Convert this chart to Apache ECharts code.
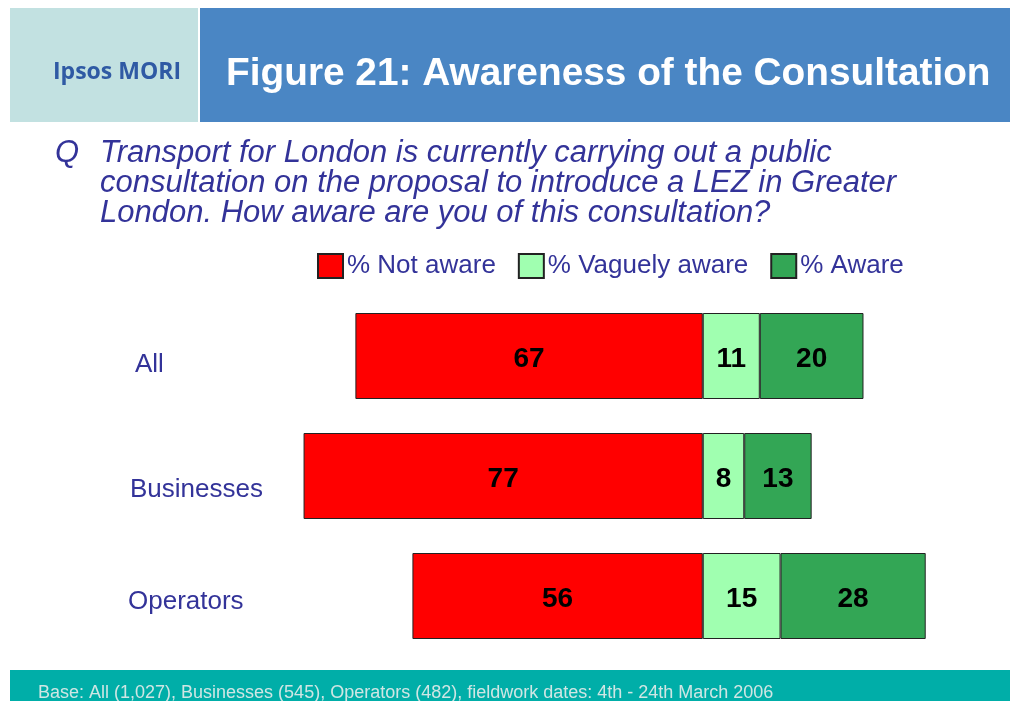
<!DOCTYPE html>
<html>
<head>
<meta charset="utf-8">
<script src="https://cdn.jsdelivr.net/npm/echarts@6/dist/echarts.min.js"></script>
<style>
  html, body {margin: 0; padding: 0; background: #fff;}
  #main {width: 1010px; height: 701px;}
</style>
</head>
<body>
<div id="main"></div>
<script>
const categories = ['All', 'Businesses', 'Operators'];
const notAware = [67, 77, 56];
const vaguelyAware = [11, 8, 15];
const aware = [20, 13, 28];

const chartDom = document.getElementById('main');
const myChart = echarts.init(chartDom);
let option;

const fontFamily = '"Liberation Sans", Arial, sans-serif';
const textBlue = '#333399';

const barLabel = {
    show: true,
    position: 'inside',
    offset: [0, 3],
    color: '#000',
    fontSize: 28,
    fontWeight: 'bold',
    fontFamily: fontFamily,
    formatter: (p) => Math.abs(p.value)
};

option = {
    animation: false,
    backgroundColor: '#fff',
    legend: {
        top: 248,
        left: 312,
        itemWidth: 25,
        itemHeight: 24,
        itemGap: 22,
        icon: 'rect',
        textStyle: {
            color: textBlue,
            fontSize: 26,
            fontFamily: fontFamily,
            padding: [0, 0, 0, -1]
        },
        data: ['% Not aware', '% Vaguely aware', '% Aware']
    },
    grid: {
        left: 288,
        right: 48,
        top: 296,
        bottom: 45
    },
    xAxis: {
        type: 'value',
        min: -80,
        max: 50,
        show: false
    },
    yAxis: {
        type: 'category',
        inverse: true,
        data: categories,
        axisLine: {show: false, onZero: false},
        axisTick: {show: false},
        axisLabel: {
            align: 'left',
            margin: 158,
            color: textBlue,
            fontSize: 26,
            fontFamily: fontFamily,
            formatter: (v, i) => '{c' + i + '|' + v + '}',
            rich: {
                c0: {fontSize: 26, fontFamily: fontFamily, color: textBlue, padding: [18, 0, 0, 5]},
                c1: {fontSize: 26, fontFamily: fontFamily, color: textBlue, padding: [28, 0, 0, 0]},
                c2: {fontSize: 26, fontFamily: fontFamily, color: textBlue, padding: [12, 0, 0, -2]}
            }
        }
    },
    series: [
        {
            name: '% Not aware',
            type: 'bar',
            stack: 'left',
            barWidth: 86,
            itemStyle: {color: '#ff0000', borderColor: '#222', borderWidth: 1},
            label: barLabel,
            data: notAware.map(v => -v)
        },
        {
            name: '% Vaguely aware',
            type: 'bar',
            stack: 'right',
            barWidth: 86,
            barGap: '-100%',
            itemStyle: {color: '#a0ffb0', borderColor: '#222', borderWidth: 1},
            label: barLabel,
            data: vaguelyAware
        },
        {
            name: '% Aware',
            type: 'bar',
            stack: 'right',
            barWidth: 86,
            itemStyle: {color: '#33a655', borderColor: '#222', borderWidth: 1},
            label: barLabel,
            data: aware
        }
    ],
    graphic: [
        {type: 'rect', shape: {x: 10, y: 8, width: 188, height: 114}, style: {fill: '#c2e1e1'}},
        {type: 'rect', shape: {x: 200, y: 8, width: 810, height: 114}, style: {fill: '#4a86c4'}},
        {
            type: 'text', x: 53, y: 72,
            style: {
                text: 'Ipsos MORI', fill: '#2f5aa4', fontSize: 23, fontWeight: 'bold',
                fontFamily: '"Open Sans", sans-serif', verticalAlign: 'middle'
            }
        },
        {
            type: 'text', x: 226, y: 74,
            style: {
                text: 'Figure 21: Awareness of the Consultation', fill: '#fff', fontSize: 38.8,
                fontWeight: 'bold', fontFamily: fontFamily, verticalAlign: 'middle'
            }
        },
        {
            type: 'text', x: 55, y: 153,
            style: {
                text: 'Q', fill: textBlue, fontSize: 31, fontStyle: 'italic',
                fontFamily: fontFamily, verticalAlign: 'middle'
            }
        },
        {
            type: 'text', x: 100, y: 138,
            style: {
                text: 'Transport for London is currently carrying out a public\nconsultation on the proposal to introduce a LEZ in Greater\nLondon. How aware are you of this consultation?',
                fill: textBlue, fontSize: 31, lineHeight: 30, fontStyle: 'italic',
                fontFamily: fontFamily, verticalAlign: 'top'
            }
        },
        {type: 'rect', shape: {x: 10, y: 670, width: 1000, height: 31}, style: {fill: '#00aea8'}},
        {
            type: 'text', x: 38, y: 693,
            style: {
                text: 'Base: All (1,027), Businesses (545), Operators (482), fieldwork dates: 4th - 24th March 2006',
                fill: '#cfe6e4', fontSize: 18, fontFamily: fontFamily, verticalAlign: 'middle'
            }
        }
    ]
};

option && myChart.setOption(option);
</script>
</body>
</html>
